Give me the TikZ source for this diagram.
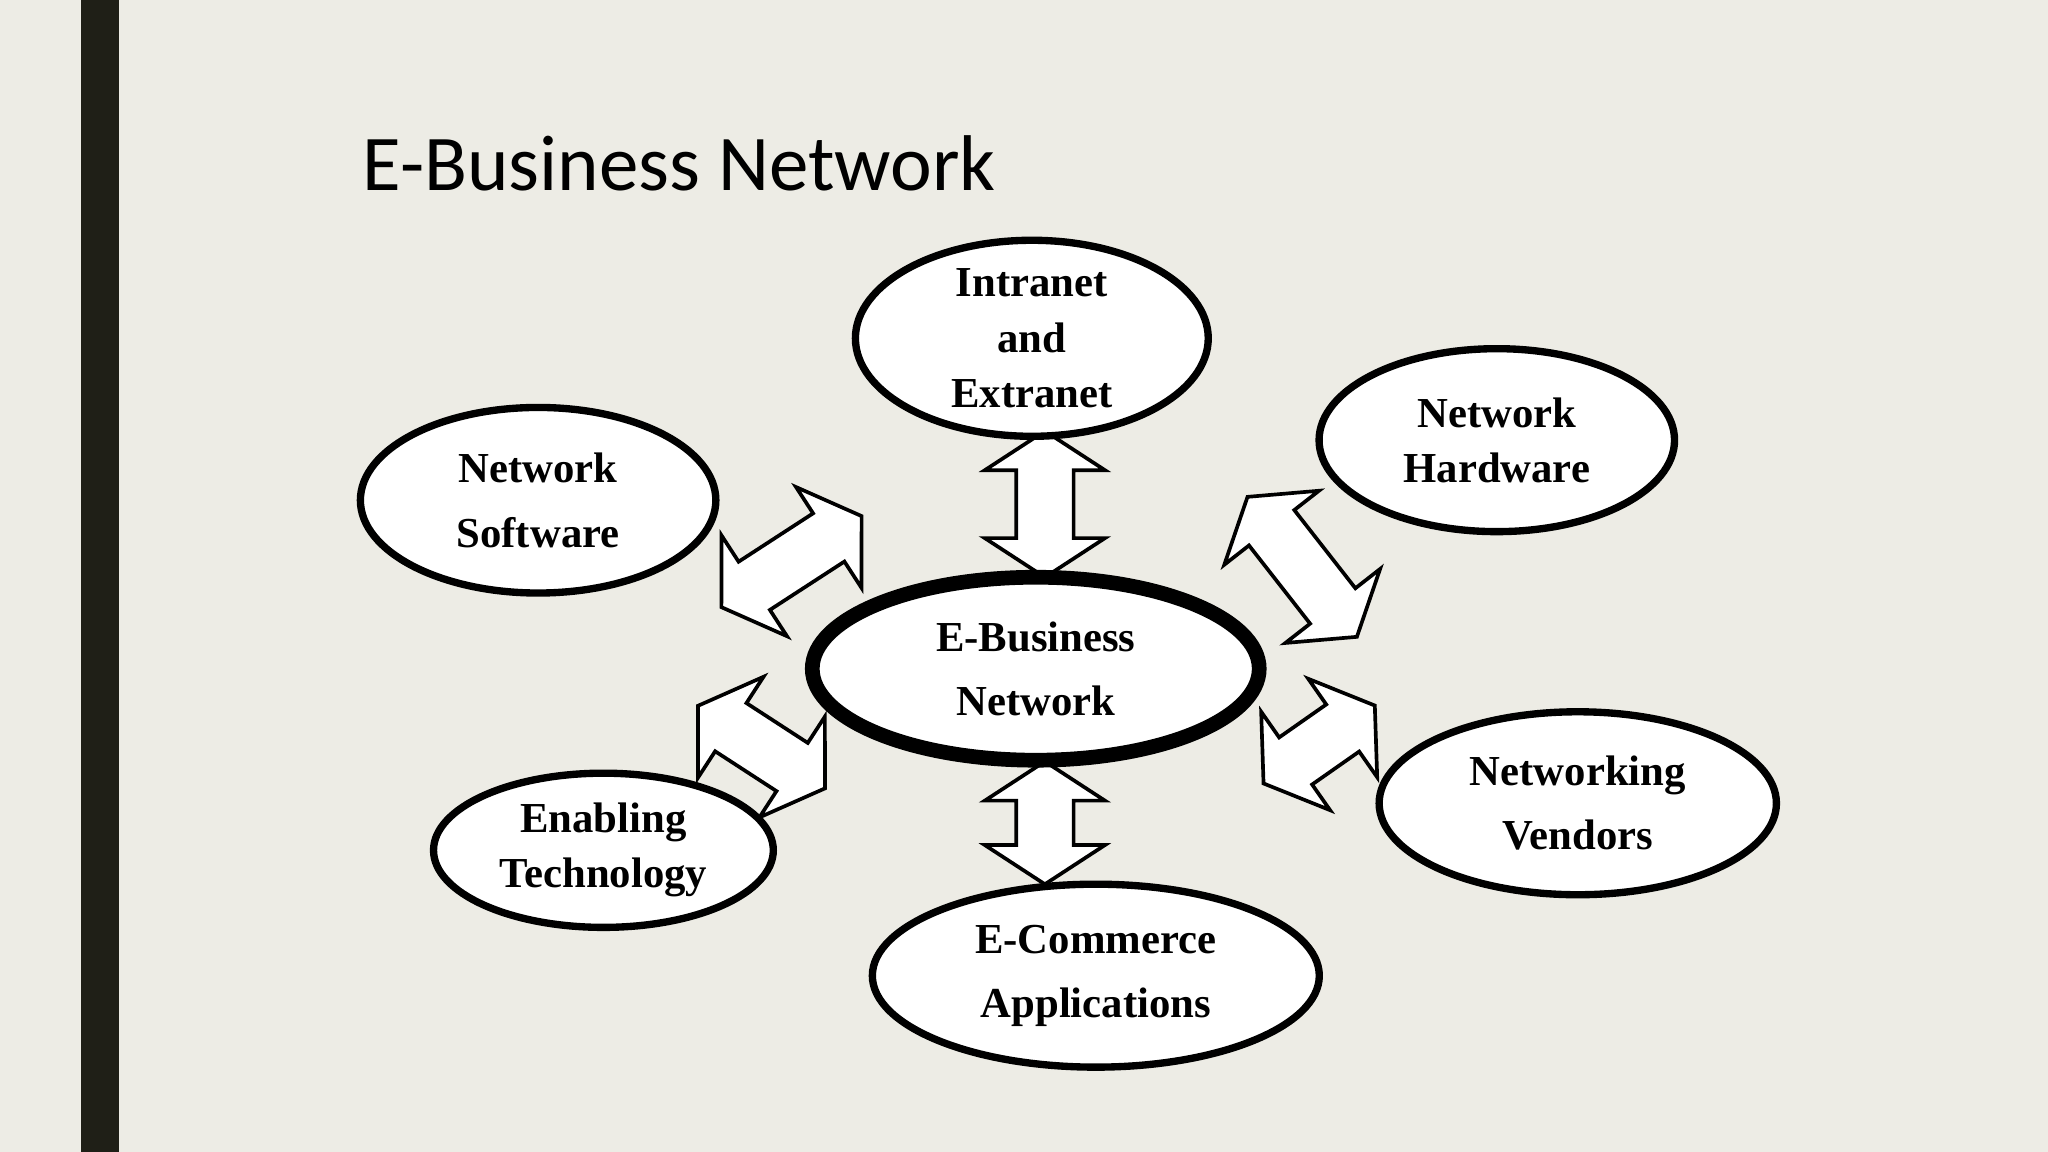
\documentclass[tikz,border=0pt]{standalone}
\usepackage{fontspec}
\setmainfont{Liberation Serif}
\newfontfamily\titlefont{Carlito}
\usetikzlibrary{shapes.geometric}
\definecolor{bg}{HTML}{EDECE5}
\definecolor{bar}{HTML}{1F1F17}
\tikzset{
 ell/.style={ellipse,draw,line width=1.6pt,fill=white,font=\bfseries\fontsize{9.3}{12}\selectfont,align=center,inner sep=0pt},
 darr/.style={draw,line width=0.8pt,fill=white,line join=miter}
}
% \dblarr{name}{x}{y}{angle}{half length}
\newcommand{\dblarr}[5]{%
 \begin{scope}[shift={(#2,#3)},rotate=#4]
 \draw[darr] (-#5,0) -- (-#5+30,-46) -- (-#5+30,-22) -- (#5-30,-22) -- (#5-30,-46) -- (#5,0)
   -- (#5-30,46) -- (#5-30,22) -- (-#5+30,22) -- (-#5+30,46) -- cycle;
 \coordinate (#1) at (0,0);
 \end{scope}}
\begin{document}
\begin{tikzpicture}[x=0.01cm,y=-0.01cm]
\fill[bg] (0,0) rectangle (1568,882);
\useasboundingbox (0,0) rectangle (1568,882);
\fill[bar] (62,0) rectangle (91,882);
\node[anchor=west,font=\titlefont\fontsize{17.2}{20}\selectfont,inner sep=0pt] (title) at (277,125) {E-Business Network};
% arrows
\dblarr{a1}{800}{386}{90}{56}
\dblarr{a2}{800}{630}{90}{47}
\dblarr{a3}{606}{430}{33}{64}
\dblarr{a4}{997}{434}{-52}{68}
\dblarr{a5}{583}{572}{-33}{58}
\dblarr{a6}{1010}{570}{35}{52}
% ellipses
\node[ell,minimum width=2.7cm,minimum height=1.42cm] (intra) at (790,259) {Intranet\\and\\Extranet};
\node[ell,minimum width=2.72cm,minimum height=1.4cm] (hw) at (1146,337) {Network\\Hardware};
\node[ell,minimum width=2.72cm,minimum height=1.42cm,font=\bfseries\fontsize{9.3}{14}\selectfont] (sw) at (412,383) {Network\\Software};
\node[ell,line width=3.2pt,minimum width=3.42cm,minimum height=1.4cm,font=\bfseries\fontsize{9.3}{14}\selectfont] (ebn) at (793,512) {E-Business\\Network};
\node[ell,minimum width=3.04cm,minimum height=1.4cm,font=\bfseries\fontsize{9.3}{14}\selectfont] (nv) at (1208,615) {Networking\\Vendors};
\node[ell,minimum width=2.6cm,minimum height=1.18cm] (et) at (462,651) {Enabling\\Technology};
\node[ell,minimum width=3.42cm,minimum height=1.4cm,font=\bfseries\fontsize{9.3}{14}\selectfont] (ec) at (839,747) {E-Commerce\\Applications};
\end{tikzpicture}
\end{document}
